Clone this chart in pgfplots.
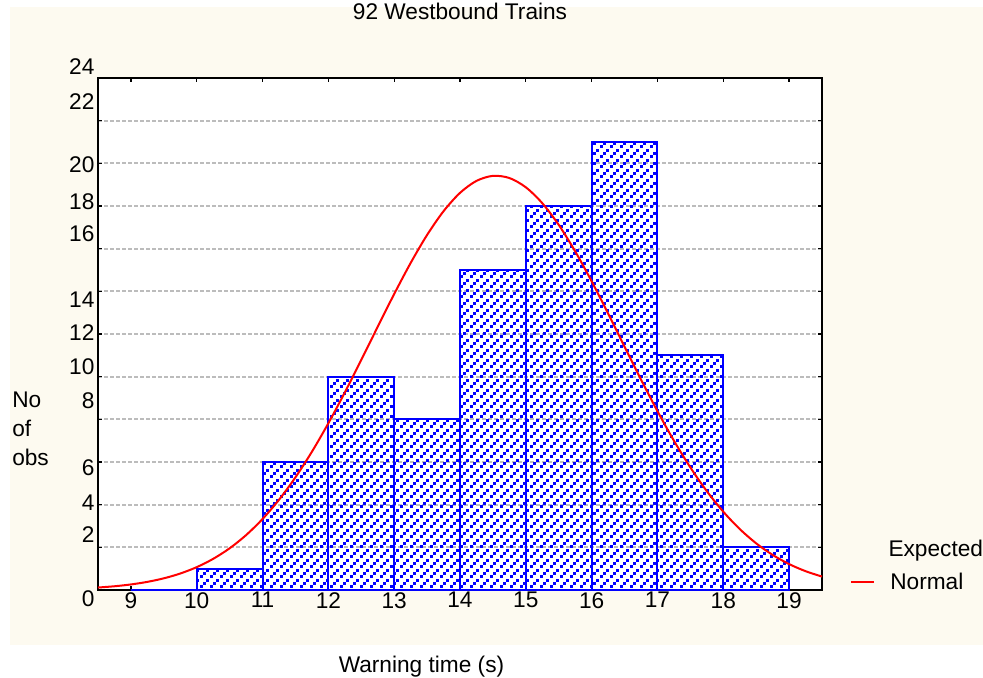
\documentclass[border=0pt]{standalone}
\usepackage{pgfplots}
\pgfplotsset{compat=1.18}
\usepackage{pgfplotstable}
\usepackage{fontspec}
\setmainfont{Liberation Sans}
\usetikzlibrary{patterns.meta}
\definecolor{beige}{RGB}{253,250,240}
\definecolor{gridgray}{RGB}{188,188,188}
\tikzdeclarepattern{
  name=bluedots,
  type=uncolored,
  bounding box={(0pt,0pt) and (7.5pt,7.5pt)},
  tile size={(7.5pt,7.5pt)},
  code={
    \fill (0pt,0pt) rectangle (2.4pt,2.4pt);
    \fill (2.5pt,2.5pt) rectangle (4.9pt,4.9pt);
    \fill (5pt,5pt) rectangle (7.4pt,7.4pt);
  }
}
\pgfplotsset{
  layers/mylayers/.define layer set={axis background,axis grid,main,axis ticks,axis lines,axis tick labels,axis descriptions,axis foreground}{},
}
\pgfplotstableread{
x y
9 0
10 1
11 6
12 10
13 8
14 15
15 18
16 21
17 11
18 2
19 2
}\hist
\pgfplotstableread{
x y
8.5 0.116
8.75 0.175
9.0 0.260
9.25 0.381
9.5 0.547
9.75 0.772
10.0 1.071
10.25 1.460
10.5 1.955
10.75 2.573
11.0 3.328
11.25 4.229
11.5 5.282
11.75 6.481
12.0 7.816
12.25 9.261
12.5 10.784
12.75 12.340
13.0 13.874
13.25 15.329
13.5 16.643
13.75 17.756
14.0 18.615
14.25 19.177
14.5 19.413
14.75 19.312
15.0 18.877
15.25 18.133
15.5 17.115
15.75 15.875
16.0 14.469
16.25 12.959
16.5 11.405
16.75 9.863
17.0 8.382
17.25 7.000
17.5 5.744
17.75 4.631
18.0 3.670
18.25 2.858
18.5 2.187
18.75 1.644
19.0 1.215
19.25 0.882
19.5 0.629
}\normalcurve
\newcommand{\lbl}{\fontsize{17}{21.75}\selectfont}
\begin{document}
\begin{tikzpicture}
\fill[white] (0pt,0pt) rectangle (737.25pt,508.5pt);
\fill[beige] (7.5pt,24.75pt) rectangle (737.25pt,503.25pt);
\begin{axis}[
  set layers=mylayers,
  at={(73.5pt,66pt)}, anchor=south west,
  scale only axis, width=543pt, height=384pt,
  xmin=8.5, xmax=19.5, ymin=0, ymax=24,
  /pgf/number format/assume math mode=true,
  axis background/.style={fill=white},
  axis line style={black, line width=1.5pt},
  xtick={9,10,...,19},
  ytick={0,2,...,24},
  yticklabels={},
  ymajorgrids,
  grid style={draw=gridgray, line width=1.6pt, dash pattern=on 3pt off 1.5pt},
  tick align=inside, major tick length=3pt,
  tick style={black, line width=1pt},
  extra y ticks={2.58,4.08,5.72,8.86,10.48,12.05,13.59,16.69,18.20,19.92,22.89},
  extra y tick labels={2,4,6,8,10,12,14,16,18,20,22},
  extra y tick style={major tick length=0pt, grid=none},
  tick label style={font=\lbl},
  xticklabel style={inner sep=0pt, anchor=north, yshift=-1.5pt},
  yticklabel style={inner sep=0pt, anchor=east, xshift=-2.5pt},
  clip=false,
  title={92 Westbound Trains},
  title style={at={(0.5,1.0977)}, anchor=base, inner sep=0pt, font=\lbl},
  xlabel={Warning time (s)},
  xlabel style={at={(0.4468,-0.1602)}, anchor=base, inner sep=0pt, font=\lbl},
  ylabel={No\\of\\obs},
  every axis y label/.style={at={(-0.1188,0.3867)}, anchor=north west, inner sep=0pt, align=left, font=\lbl},
  legend style={at={(1.0387,0.0156)}, anchor=west, draw=none, fill=none, inner sep=0pt, font=\lbl, nodes={inner sep=0pt}, cells={anchor=west}},
  legend image code/.code={\draw[#1] (0pt,0pt) -- (17.25pt,0pt); \path (28.5pt,0pt);},
]
\addplot[ybar interval, forget plot, draw=blue, line width=1.5pt, pattern=bluedots, pattern color=blue] table[x=x,y=y] {\hist};
\addplot[red, line width=1.5pt, smooth, no marks] table[x=x,y=y] {\normalcurve};
\addlegendentry{Normal}
\node[anchor=east, inner sep=0pt, font=\lbl, xshift=-2.5pt] at (axis cs:8.5,24.53) {24};
\node[anchor=east, inner sep=0pt, font=\lbl, xshift=-2.5pt] at (axis cs:8.5,-0.42) {0};
\end{axis}
\node[anchor=base west, inner sep=0pt, font=\lbl] at (666.2pt,91pt) {Expected};
\pgfresetboundingbox
\useasboundingbox (0pt,0pt) rectangle (737.25pt,508.5pt);
\end{tikzpicture}
\end{document}
